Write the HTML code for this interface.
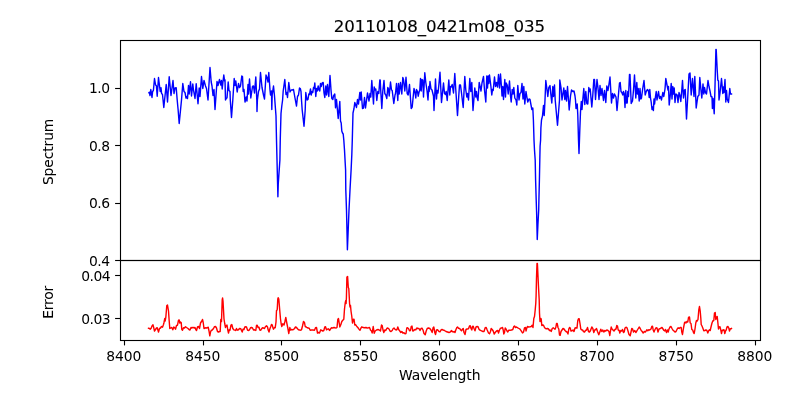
<!DOCTYPE html>
<html lang="en"><head><meta charset="utf-8"><title>20110108_0421m08_035</title>
<style>html,body{margin:0;padding:0;background:#fff;overflow:hidden}svg{display:block}text{font-family:'DejaVu Sans','Liberation Sans',sans-serif;fill:#000}.t{font-size:13.889px}.ttl{font-size:16.667px;stroke:#000;stroke-width:0.12px}.lb{stroke:#000;stroke-width:0.06px}.ax{stroke:#000;stroke-width:1.11;fill:none;stroke-linecap:square}.tk{stroke:#000;stroke-width:1.11;fill:none;stroke-linecap:butt}.ln{fill:none;stroke-width:1.415;stroke-linejoin:round;stroke-linecap:square}</style></head><body>
<svg width="800" height="400" viewBox="0 0 800 400">
<rect x="0" y="0" width="800" height="400" fill="#fff"/>
<defs><clipPath id="c1"><rect x="120" y="40" width="640" height="220"/></clipPath><clipPath id="c2"><rect x="120" y="260" width="640" height="80"/></clipPath></defs>
<polyline class="ln" clip-path="url(#c1)" stroke="#0000ff" points="148.90,92.80 149.40,92.20 150.00,95.50 150.80,89.50 152.00,97.50 152.60,91.50 153.40,90.50 154.50,78.50 155.60,85.00 156.40,85.80 157.20,96.20 158.50,77.50 159.60,86.50 160.20,91.50 161.00,87.80 161.60,93.50 162.50,94.50 163.80,107.50 166.20,84.50 167.50,102.00 169.20,76.80 171.00,95.50 173.00,80.50 174.00,93.50 175.00,88.00 176.20,87.80 177.20,100.00 177.80,106.50 178.10,109.50 179.20,123.50 181.50,100.00 182.80,83.50 184.00,91.50 185.00,92.50 186.00,98.00 187.00,96.50 187.50,98.50 188.50,85.50 189.20,94.00 190.50,81.80 191.50,96.00 192.80,84.00 193.50,90.00 195.00,98.50 196.20,83.80 198.00,103.80 199.20,88.00 200.00,96.50 201.50,76.50 202.80,88.50 204.00,80.50 205.50,86.00 206.50,88.50 208.00,100.00 210.00,67.50 211.20,82.00 212.00,86.00 213.00,95.50 214.00,89.50 215.00,109.50 217.00,81.50 218.00,85.50 219.50,79.50 220.80,85.00 221.50,80.50 222.20,89.00 223.00,81.50 223.80,75.00 224.60,81.00 225.00,80.00 225.50,100.00 226.20,98.50 227.00,98.00 228.20,82.00 229.00,90.50 230.00,91.50 230.30,100.00 231.50,117.50 232.80,100.00 234.20,78.50 235.00,85.50 235.80,81.00 237.20,92.00 238.50,83.50 239.50,87.50 240.50,86.00 241.80,76.00 242.50,76.50 243.20,91.50 244.00,89.50 245.00,102.00 246.20,97.00 247.00,101.00 248.00,84.50 248.50,94.00 249.50,79.00 250.80,98.00 252.50,86.50 253.50,86.00 254.50,93.00 255.80,77.00 256.80,100.00 257.00,111.50 257.40,100.00 258.50,91.50 259.50,89.00 260.50,72.50 262.00,87.50 263.50,95.00 264.50,99.00 266.00,75.00 267.00,77.50 268.00,82.00 268.80,72.50 270.00,90.00 270.50,95.00 271.50,91.00 271.80,109.50 272.20,95.00 273.50,86.00 274.50,96.00 275.40,108.00 276.00,116.00 276.50,140.00 277.00,160.00 277.60,184.00 277.90,196.70 278.25,184.00 279.00,173.00 279.90,160.00 280.30,138.00 281.00,113.50 281.80,106.00 282.60,100.00 283.20,91.00 284.80,79.50 286.00,94.50 286.80,92.50 287.50,97.50 288.80,82.50 290.00,92.00 291.20,90.00 292.50,90.00 293.50,89.50 294.80,97.00 296.50,106.00 297.50,96.50 298.50,95.00 299.50,88.00 300.30,88.50 301.00,91.50 301.50,100.00 302.20,110.00 304.00,126.20 305.20,110.00 305.80,92.50 306.50,97.00 307.20,100.00 308.00,99.50 308.80,94.00 309.50,94.50 310.50,89.00 311.20,95.00 312.00,91.50 312.80,92.50 313.50,87.50 314.20,88.50 314.80,83.00 315.80,96.50 316.50,88.50 317.20,91.00 318.20,86.00 319.00,90.00 319.80,91.00 320.50,83.50 321.20,86.50 322.20,83.00 323.20,82.50 324.00,93.00 324.80,97.50 325.80,86.00 326.60,95.00 327.50,84.50 328.80,96.50 330.00,75.50 331.00,90.00 331.80,98.50 332.80,99.50 333.50,96.00 334.80,94.00 335.50,107.80 336.50,99.50 338.20,118.50 339.80,101.50 340.50,121.00 341.20,123.00 341.80,131.00 342.50,133.00 343.20,134.00 343.80,140.00 344.50,150.00 345.20,163.00 345.60,170.00 345.80,190.00 346.50,210.00 347.00,232.00 347.40,249.80 348.00,235.00 349.00,210.00 350.00,190.00 351.10,170.00 351.80,155.00 352.30,140.00 352.60,128.00 353.00,113.00 354.00,108.50 354.80,102.50 355.50,104.50 356.50,107.50 357.50,99.50 358.50,104.00 359.80,92.50 360.50,100.00 361.20,92.00 362.50,108.50 363.50,108.00 364.50,97.50 365.50,108.00 367.50,93.00 369.00,101.00 370.00,93.50 370.80,97.00 371.80,80.50 373.50,104.00 374.20,87.00 375.00,90.00 375.80,89.00 376.80,100.50 377.80,91.50 378.80,93.50 379.80,80.00 380.20,80.00 380.80,91.50 381.80,108.50 382.80,91.00 384.00,80.50 384.80,93.50 385.80,95.00 386.80,98.50 387.80,87.50 388.50,89.00 389.20,96.00 390.50,82.00 391.50,90.00 392.20,90.50 393.80,103.50 395.00,95.00 395.50,93.50 396.50,83.50 397.20,92.50 397.80,100.50 398.50,83.50 399.20,94.00 400.50,82.50 401.80,94.00 402.80,77.50 403.50,79.50 404.80,91.00 406.00,77.20 407.20,93.50 408.20,95.00 409.50,84.50 410.30,96.00 411.20,108.50 412.20,107.00 414.00,88.50 415.00,92.50 415.80,98.00 416.50,89.50 417.50,91.50 418.20,96.20 419.20,91.50 419.80,90.00 420.50,78.50 421.20,91.00 422.00,79.50 422.80,80.00 423.50,97.00 424.80,72.80 425.80,82.50 427.00,90.50 428.00,100.00 428.80,86.50 429.20,91.50 430.00,81.50 431.00,89.00 432.00,90.00 433.50,96.00 434.00,110.50 435.50,79.00 436.50,99.00 437.20,90.50 438.00,93.00 438.80,85.50 440.00,72.20 441.50,102.50 442.80,90.00 443.50,83.00 444.50,93.50 445.50,94.50 446.20,91.50 447.20,100.50 448.80,80.00 449.80,95.00 450.50,86.50 451.20,87.00 452.20,84.50 453.50,93.00 454.80,73.50 455.80,90.00 457.50,115.50 458.70,97.00 459.50,85.00 460.50,85.00 461.50,93.00 463.20,107.50 464.80,76.50 465.80,90.00 466.80,97.00 467.50,93.50 468.50,100.00 469.80,78.50 470.80,91.50 471.80,82.50 473.00,110.50 474.80,88.00 475.80,97.00 476.50,91.50 477.20,98.00 478.00,100.50 479.20,82.50 480.00,86.00 481.00,91.00 482.00,83.00 483.50,76.50 484.50,90.00 485.80,102.00 486.80,76.00 487.50,88.00 488.20,76.00 488.80,83.50 489.50,75.00 490.80,85.50 491.80,95.00 492.50,89.50 493.20,90.50 494.50,77.00 495.50,86.50 496.50,82.50 497.50,87.00 498.50,74.50 499.50,88.00 500.50,74.00 501.50,87.50 502.00,96.00 502.80,86.50 503.50,99.50 504.80,79.50 505.50,97.00 506.20,83.00 507.20,85.00 508.20,94.00 509.50,81.00 510.50,96.00 511.20,102.00 512.20,89.50 513.00,94.00 513.80,87.50 514.80,98.00 516.00,100.00 516.80,105.00 517.80,85.50 519.00,100.00 520.00,93.50 521.00,92.50 522.00,83.50 523.00,99.00 523.80,86.50 524.80,104.00 526.00,91.50 527.20,99.00 527.80,102.00 529.00,99.00 530.00,99.50 531.20,106.00 531.80,109.50 532.80,108.00 533.40,120.00 533.80,133.00 534.00,140.00 534.50,150.00 535.20,160.00 535.60,180.00 536.20,200.00 536.60,212.00 537.25,239.50 537.90,225.00 538.70,210.00 538.90,200.00 539.40,180.00 539.80,160.00 540.10,146.00 540.60,140.00 540.90,128.00 541.50,120.00 542.50,115.80 543.50,105.50 544.20,115.50 545.00,100.00 545.80,80.50 546.80,88.00 547.80,96.50 548.80,87.50 550.00,85.50 550.80,94.00 551.80,103.00 552.80,86.50 553.50,96.50 554.50,85.00 555.20,100.00 557.50,125.20 559.50,100.00 559.80,80.00 561.00,87.50 562.00,100.00 563.80,88.00 564.80,99.50 565.50,90.50 566.50,101.00 567.50,86.50 568.50,100.00 569.20,110.00 570.50,96.00 571.50,90.00 572.80,91.50 574.00,91.00 575.00,96.00 575.50,100.00 576.00,108.50 577.20,104.00 577.80,115.00 578.50,140.00 579.00,153.50 579.80,130.00 580.50,112.00 581.30,101.50 582.00,109.50 582.60,102.00 583.80,88.50 584.80,104.50 585.80,91.50 586.80,103.50 587.80,104.00 588.80,87.50 589.50,91.50 590.20,89.00 591.80,107.00 592.80,95.00 593.80,79.50 594.50,79.50 595.50,99.50 597.00,79.50 598.00,88.00 599.00,99.50 600.00,85.50 601.00,95.50 602.00,88.50 603.50,100.50 604.50,90.50 605.80,102.50 606.80,86.00 608.00,90.50 609.00,84.00 610.00,77.00 611.50,103.00 612.50,93.50 613.50,98.00 614.50,94.00 616.00,97.00 617.00,110.50 619.50,83.00 620.20,82.50 621.00,91.50 621.80,92.50 622.80,95.00 623.50,91.50 624.20,93.50 625.00,107.50 625.80,90.50 626.50,103.00 627.20,103.00 627.80,91.50 628.50,96.50 629.50,74.50 630.00,74.50 631.20,103.50 632.50,101.00 633.50,90.00 634.50,75.00 635.80,98.00 636.80,82.50 637.50,94.00 638.20,88.50 639.20,101.00 640.00,88.50 640.80,99.00 641.50,98.00 642.80,88.00 644.00,80.50 645.20,95.00 646.20,91.50 647.50,89.50 648.50,91.00 649.20,97.50 649.80,89.50 650.50,98.00 651.20,102.00 652.00,109.50 652.70,107.00 653.40,110.50 654.00,99.00 654.60,104.00 655.20,98.50 656.20,91.50 657.00,100.00 658.50,91.50 659.50,98.50 660.50,96.50 661.50,100.00 662.80,92.50 663.80,96.50 665.00,89.00 665.80,78.50 667.00,85.00 668.00,90.00 668.50,86.50 669.20,105.00 670.20,96.00 671.20,83.50 672.00,99.00 672.80,86.50 673.50,94.00 674.20,88.00 675.00,102.50 676.00,94.00 677.20,95.00 678.00,102.50 679.00,92.50 679.80,95.00 680.80,101.50 681.80,90.00 682.50,80.50 683.50,98.00 684.50,90.00 685.20,89.50 686.50,119.00 689.00,74.00 690.00,73.00 691.20,95.00 692.50,78.50 694.00,96.50 694.80,76.50 696.20,108.00 697.80,96.50 699.00,95.00 699.80,77.50 701.00,90.50 701.80,98.00 703.00,84.00 703.80,94.00 704.50,87.50 705.50,92.50 706.50,94.00 708.00,80.50 709.00,86.50 710.00,91.00 711.00,96.50 712.00,97.00 712.40,108.50 713.10,98.50 714.20,113.70 714.90,90.00 715.90,49.50 716.20,49.50 717.20,70.00 717.80,80.00 718.50,81.00 719.00,100.00 720.00,93.00 721.50,78.50 722.80,93.50 723.50,87.00 724.00,92.50 725.00,79.50 725.80,102.00 726.50,90.50 727.20,99.00 728.50,102.50 729.80,88.50 730.50,94.00 731.50,94.00"/>
<polyline class="ln" clip-path="url(#c2)" stroke="#ff0000" points="148.50,328.30 149.50,328.50 150.20,329.20 151.00,328.50 152.00,326.00 153.00,324.80 153.80,328.00 154.50,331.00 155.50,329.50 156.50,328.00 157.20,327.80 158.50,332.00 159.50,328.50 160.50,328.00 161.50,326.50 162.50,327.20 163.50,324.50 164.00,322.50 164.80,318.50 165.20,321.00 165.80,317.50 166.80,305.50 167.50,305.00 168.50,311.00 169.20,321.00 169.80,328.50 171.00,327.80 171.80,327.50 172.80,329.80 173.80,327.00 174.50,327.50 175.50,329.20 176.50,325.50 177.50,325.20 178.50,320.20 179.20,320.00 179.80,323.00 180.50,322.00 181.20,322.50 181.80,329.50 182.50,330.20 183.50,327.80 184.50,328.00 185.50,326.70 186.50,327.50 188.00,328.50 189.00,329.50 190.00,330.00 191.00,327.50 192.00,328.00 193.00,327.20 194.00,328.00 195.00,327.50 195.80,329.50 196.50,330.50 197.50,327.00 198.50,326.50 199.50,328.50 200.50,323.00 201.50,321.50 202.50,319.50 203.20,322.50 204.00,328.50 205.00,328.00 206.00,327.80 207.00,328.00 208.20,327.20 209.00,331.00 209.80,335.80 210.50,332.00 211.20,330.50 212.20,330.00 213.50,328.50 214.50,326.70 215.50,326.50 216.50,328.00 217.50,331.50 218.50,332.00 219.50,331.50 220.20,331.50 220.80,319.50 221.50,321.50 222.20,300.00 222.60,298.00 223.00,301.00 223.50,310.00 224.00,319.00 224.80,324.00 225.50,327.50 226.20,325.50 227.00,325.00 227.80,330.00 228.50,333.00 229.20,330.00 230.00,330.20 231.00,325.00 231.80,324.50 232.80,328.50 233.80,329.80 235.00,330.20 235.80,330.50 236.50,328.50 237.50,330.20 238.50,329.80 239.50,328.50 240.80,328.80 241.50,330.50 242.20,332.00 243.00,329.20 244.00,329.50 244.80,327.00 245.80,326.80 246.50,327.00 247.50,330.00 248.50,330.50 249.50,329.80 250.50,327.80 251.50,327.50 252.50,328.00 253.50,330.00 254.50,329.80 255.80,330.50 256.50,325.50 257.20,325.20 258.00,327.50 259.00,327.20 259.80,330.00 260.80,330.20 261.50,329.00 262.50,327.80 263.50,328.00 264.50,328.50 265.50,326.50 266.50,325.80 267.50,327.00 268.20,330.00 269.00,332.00 269.80,329.00 270.80,326.50 271.50,324.50 272.20,324.80 273.00,328.00 273.50,329.20 274.50,327.50 275.20,327.80 276.00,322.00 276.50,310.50 277.20,310.00 277.80,299.00 278.20,297.70 278.80,299.00 279.80,311.00 280.50,319.00 281.20,324.00 281.80,326.50 282.80,323.80 284.00,325.00 284.80,322.00 285.80,317.50 286.80,323.00 287.80,328.00 288.80,333.50 289.80,327.50 290.50,330.00 291.50,329.50 292.50,329.80 293.50,329.50 294.50,328.50 295.50,327.00 296.50,327.50 297.50,328.80 298.50,329.80 299.80,330.00 300.50,330.20 301.50,329.80 302.50,326.00 303.50,321.50 304.50,322.50 305.20,326.50 306.20,327.00 307.20,327.80 308.20,328.00 309.20,328.20 310.20,330.20 311.50,330.00 313.00,330.00 314.50,330.20 315.50,327.80 316.50,327.50 317.50,333.00 318.50,332.50 319.50,333.00 320.80,329.80 321.80,330.50 322.80,331.00 323.80,330.50 324.80,327.00 325.50,326.80 326.50,329.80 327.50,329.20 328.50,328.80 329.50,330.50 330.50,329.00 331.50,327.80 332.50,328.00 334.00,327.50 335.00,327.80 336.20,328.00 337.00,327.50 337.80,319.50 338.50,318.50 339.20,323.00 339.80,327.00 340.80,324.80 341.80,321.50 342.80,320.20 343.80,319.20 344.50,309.00 345.20,303.00 345.80,300.50 346.10,303.50 346.40,298.00 346.90,277.00 347.60,276.50 348.30,287.50 348.80,288.50 349.30,298.00 349.60,304.00 350.00,307.00 350.50,305.50 351.00,311.00 351.80,316.50 352.50,323.00 353.20,319.50 354.00,319.20 354.80,325.00 355.80,324.80 356.80,326.50 357.80,327.50 359.00,329.20 360.00,330.20 361.00,328.00 361.80,326.80 363.00,327.50 364.50,327.80 366.00,327.50 367.20,328.00 368.50,327.80 369.50,327.50 370.50,330.00 371.50,331.00 372.20,333.00 373.20,326.50 374.20,333.20 375.20,331.00 376.50,330.00 378.00,329.50 379.50,330.20 380.50,331.00 381.50,325.00 382.20,325.50 383.00,330.00 383.80,332.50 384.80,330.00 385.80,330.50 386.80,328.50 387.80,328.00 389.00,329.00 390.00,331.00 391.00,331.50 392.20,330.50 393.20,328.50 394.00,328.00 395.00,329.20 396.00,330.00 397.00,329.50 397.80,327.00 398.80,329.80 399.80,331.00 400.80,332.50 401.80,331.50 402.80,333.00 404.00,332.80 405.00,333.80 406.00,333.50 406.80,328.00 407.50,327.80 408.50,328.50 409.50,330.80 410.50,330.50 411.20,326.50 412.00,326.00 412.80,331.00 413.80,330.50 414.80,329.50 415.80,329.80 416.80,328.00 417.80,328.50 419.00,328.50 420.00,330.50 421.00,328.50 422.00,328.20 423.00,330.00 424.00,333.50 425.20,334.80 426.20,331.00 427.20,328.50 428.50,328.00 429.80,328.50 431.00,330.00 432.20,332.50 433.00,328.00 433.80,327.00 434.80,332.50 435.50,334.50 436.50,330.00 437.50,329.80 439.00,331.50 440.00,331.80 441.00,330.00 442.00,329.50 443.20,330.00 444.50,330.50 446.00,331.50 447.50,332.00 449.00,332.50 450.50,331.80 451.50,330.50 452.20,331.50 453.50,332.00 454.20,331.50 455.00,332.50 455.80,330.00 456.80,327.50 457.50,327.00 458.50,328.20 459.80,328.50 460.50,329.80 461.50,330.80 462.50,329.00 463.20,328.50 464.00,332.50 465.00,334.50 466.00,329.50 467.00,329.00 468.50,328.80 469.50,326.00 470.20,325.80 471.00,328.50 471.80,330.00 472.50,326.50 473.20,326.20 474.00,328.50 475.00,330.80 476.00,327.00 477.20,326.50 478.20,327.00 479.00,329.20 480.00,330.20 481.50,330.80 483.00,331.50 484.00,331.50 485.20,327.80 486.20,327.50 487.20,330.00 488.50,333.00 489.50,333.80 490.50,331.50 491.20,328.50 492.20,329.50 493.20,331.00 494.20,334.00 495.20,332.50 496.50,331.00 497.80,330.50 498.50,333.00 499.50,330.00 500.50,328.20 501.50,328.00 502.50,327.50 503.20,330.00 503.80,334.00 504.50,332.50 505.20,328.00 506.00,329.00 507.00,331.00 507.80,332.00 508.80,330.20 510.00,330.20 511.50,330.00 512.80,329.50 513.80,326.50 514.50,326.00 515.50,327.50 516.50,327.00 517.80,327.80 519.00,328.50 520.00,329.20 521.20,330.80 522.50,333.00 523.50,332.00 524.50,328.00 525.50,327.50 526.00,331.00 526.80,328.00 527.50,326.50 528.50,327.00 530.00,326.80 531.20,326.50 532.20,325.20 533.00,327.50 533.80,318.50 534.50,316.50 535.20,310.00 535.80,303.00 536.10,296.00 536.50,278.00 537.00,263.50 537.40,263.50 538.40,285.00 539.20,300.00 539.50,313.00 540.00,321.50 540.80,318.50 541.20,319.00 541.80,325.50 542.80,325.00 543.50,325.20 544.50,327.50 545.50,328.50 546.50,328.80 547.50,328.50 548.50,329.00 549.50,330.50 550.50,330.20 551.20,331.50 552.20,328.50 553.20,327.80 554.20,328.50 555.00,329.20 555.80,327.50 556.50,323.50 557.20,323.50 558.00,327.50 558.80,329.00 559.50,335.00 560.20,335.20 561.00,331.50 562.00,330.00 563.00,328.50 564.00,329.00 565.00,330.50 566.00,331.50 567.00,332.00 568.00,334.00 568.80,329.00 569.50,327.50 570.20,327.80 571.00,331.00 572.00,330.80 573.00,330.00 574.00,331.50 575.00,328.00 576.00,327.80 577.00,328.00 577.80,320.50 578.50,318.80 579.20,318.80 580.00,323.50 580.80,329.00 581.50,329.80 582.50,330.00 583.50,331.50 584.50,332.00 585.50,330.50 586.50,330.00 587.50,327.50 588.50,331.50 589.50,332.00 590.50,330.50 591.80,327.00 592.80,328.50 593.80,332.50 594.80,330.00 595.80,329.50 596.50,328.50 597.50,331.50 598.80,334.80 599.80,332.00 600.80,329.20 601.80,331.50 602.80,330.00 603.80,332.00 604.80,330.50 605.80,331.00 606.80,330.00 608.00,330.50 609.00,331.50 609.80,335.50 610.50,331.00 611.20,327.00 612.00,329.00 613.00,330.00 614.00,331.00 615.00,329.50 616.00,329.00 616.80,325.50 617.50,326.00 618.20,330.00 619.20,330.50 619.80,333.00 620.80,330.50 621.80,331.00 622.50,329.50 623.50,332.50 624.20,332.00 625.00,328.00 626.00,327.20 627.00,327.80 628.00,331.00 629.00,334.50 630.20,335.80 631.00,332.00 631.80,328.50 632.50,328.80 633.50,332.00 634.80,330.50 635.80,332.50 636.80,331.00 638.00,329.00 639.20,327.00 640.20,328.50 641.20,330.50 642.20,331.50 643.20,333.00 644.50,331.50 645.50,332.00 646.80,329.80 647.80,330.80 648.80,329.80 649.80,330.00 651.00,329.00 651.80,326.50 652.50,326.20 653.20,330.00 654.00,332.00 655.00,329.50 656.00,327.80 657.00,328.00 658.00,332.00 659.00,329.00 660.00,328.80 661.00,328.00 662.00,327.50 663.00,329.00 664.00,330.50 664.80,331.00 665.50,329.50 666.50,332.50 667.50,330.00 668.20,332.00 669.00,329.00 670.00,327.00 671.00,326.50 672.00,328.50 673.00,330.20 674.00,331.00 675.00,332.00 676.00,331.50 677.20,329.00 678.20,327.80 679.20,328.50 680.20,327.50 681.20,327.50 681.80,332.00 682.50,334.50 683.50,328.00 684.50,322.80 685.20,322.00 686.00,323.00 686.80,321.50 687.80,322.00 688.50,317.50 689.50,317.00 690.20,323.00 691.00,323.50 691.80,329.50 692.80,330.20 693.50,332.50 694.20,333.50 695.00,329.00 695.80,323.00 696.50,320.50 697.20,321.00 698.00,319.50 698.80,310.00 699.50,306.50 700.20,311.00 700.80,318.00 701.20,324.50 702.00,326.00 702.80,328.00 703.80,330.80 704.80,330.50 705.80,330.00 706.80,330.20 707.80,333.00 708.80,330.50 709.50,329.80 710.20,330.50 711.00,327.00 712.00,323.00 712.80,321.00 713.80,320.50 714.50,313.00 715.20,312.50 715.80,319.50 716.50,317.00 717.20,316.50 717.80,322.00 718.50,329.00 719.20,327.00 720.00,326.80 720.80,330.00 721.50,333.50 722.20,330.50 723.20,330.00 724.00,329.80 724.80,333.50 725.50,331.00 726.20,330.00 727.00,327.00 728.00,326.50 728.80,328.00 729.50,331.00 730.20,329.00 731.50,328.50"/>
<line class="tk" x1="124.5" y1="340.5" x2="124.5" y2="345.4"/>
<text class="t" text-anchor="middle" textLength="35.13" x="123.881" y="361.33">8400</text>
<line class="tk" x1="203.5" y1="340.5" x2="203.5" y2="345.4"/>
<text class="t" text-anchor="middle" textLength="35.13" x="202.756" y="361.33">8450</text>
<line class="tk" x1="281.5" y1="340.5" x2="281.5" y2="345.4"/>
<text class="t" text-anchor="middle" textLength="35.13" x="281.631" y="361.33">8500</text>
<line class="tk" x1="360.5" y1="340.5" x2="360.5" y2="345.4"/>
<text class="t" text-anchor="middle" textLength="35.13" x="360.505" y="361.33">8550</text>
<line class="tk" x1="439.5" y1="340.5" x2="439.5" y2="345.4"/>
<text class="t" text-anchor="middle" textLength="35.13" x="439.380" y="361.33">8600</text>
<line class="tk" x1="518.5" y1="340.5" x2="518.5" y2="345.4"/>
<text class="t" text-anchor="middle" textLength="35.13" x="518.255" y="361.33">8650</text>
<line class="tk" x1="597.5" y1="340.5" x2="597.5" y2="345.4"/>
<text class="t" text-anchor="middle" textLength="35.13" x="597.130" y="361.33">8700</text>
<line class="tk" x1="676.5" y1="340.5" x2="676.5" y2="345.4"/>
<text class="t" text-anchor="middle" textLength="35.13" x="676.005" y="361.33">8750</text>
<line class="tk" x1="755.5" y1="340.5" x2="755.5" y2="345.4"/>
<text class="t" text-anchor="middle" textLength="35.13" x="754.880" y="361.33">8800</text>
<line class="tk" x1="115.1" y1="260.5" x2="120.5" y2="260.5"/>
<text class="t" text-anchor="end" textLength="21.05" x="110.00" y="266.277">0.4</text>
<line class="tk" x1="115.1" y1="203.5" x2="120.5" y2="203.5"/>
<text class="t" text-anchor="end" textLength="21.05" x="110.00" y="207.911">0.6</text>
<line class="tk" x1="115.1" y1="145.5" x2="120.5" y2="145.5"/>
<text class="t" text-anchor="end" textLength="21.05" x="110.00" y="150.544">0.8</text>
<line class="tk" x1="115.1" y1="88.5" x2="120.5" y2="88.5"/>
<text class="t" text-anchor="end" textLength="21.05" x="110.00" y="93.178">1.0</text>
<line class="tk" x1="115.1" y1="318.5" x2="120.5" y2="318.5"/>
<text class="t" text-anchor="end" textLength="29.45" x="110.58" y="323.676">0.03</text>
<line class="tk" x1="115.1" y1="275.5" x2="120.5" y2="275.5"/>
<text class="t" text-anchor="end" textLength="29.45" x="110.58" y="280.577">0.04</text>
<rect class="ax" x="120.5" y="40.5" width="640" height="220"/>
<rect class="ax" x="120.5" y="260.5" width="640" height="80"/>
<text class="t lb" text-anchor="middle" transform="translate(53.11,151.85) rotate(-90)" textLength="66.5">Spectrum</text>
<text class="t lb" text-anchor="middle" transform="translate(53.11,302.37) rotate(-90)" textLength="33.0">Error</text>
<text class="t lb" text-anchor="middle" x="439.7" y="380.27" textLength="81.45">Wavelength</text>
<text class="ttl" text-anchor="middle" x="439.4" y="31.67" textLength="211.5">20110108_0421m08_035</text>
</svg></body></html>
